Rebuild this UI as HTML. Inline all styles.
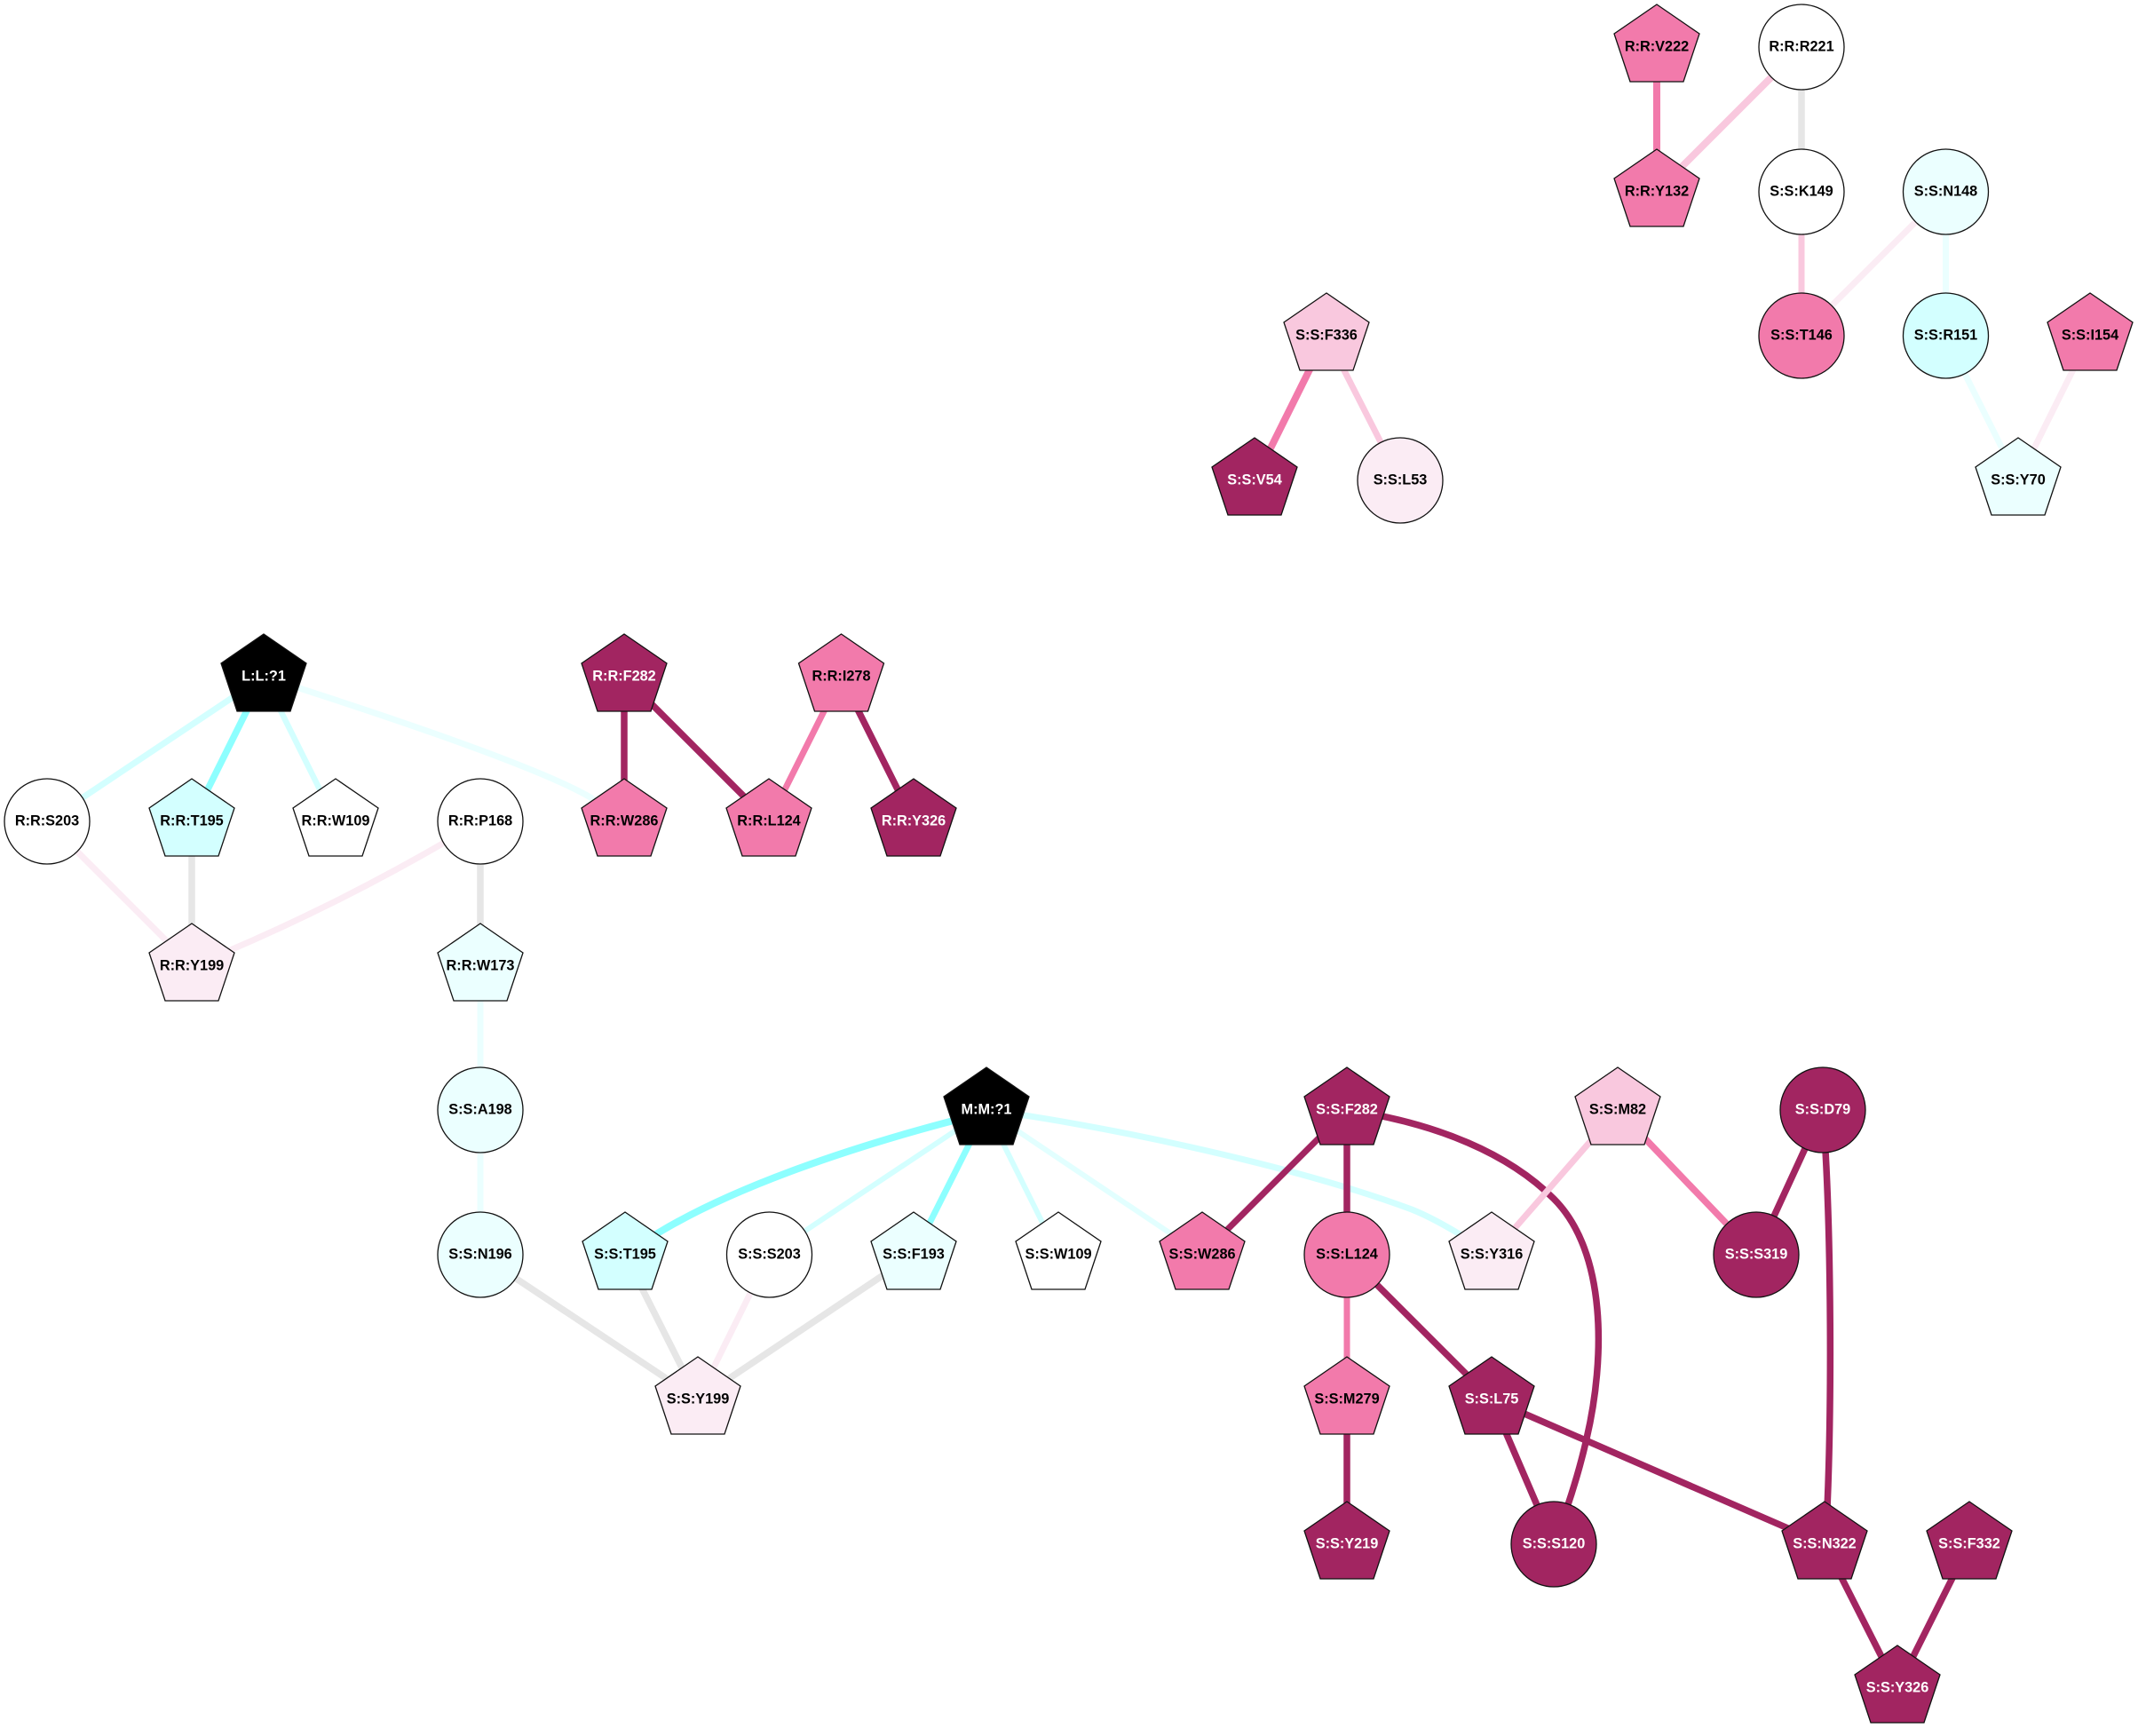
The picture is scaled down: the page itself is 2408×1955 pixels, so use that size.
<!DOCTYPE html>
<html><head><meta charset="utf-8"><style>
html,body{margin:0;padding:0;background:#fff}
svg{display:block}
text{font-family:"Liberation Sans",Arial,sans-serif;font-weight:bold;font-size:16.3px;text-anchor:middle;fill:#000}
text.w{fill:#fff}
.e{fill:none}
polygon,ellipse{stroke:#111;stroke-width:1.3}
</style></head><body>
<svg width="2408" height="1955" viewBox="0 0 2408 1955" xmlns="http://www.w3.org/2000/svg">
<rect width="2408" height="1955" fill="#fff"/>
<g class="e" fill="none">
<path d="M1866,53V216" stroke="#f27aab" stroke-width="8"/>
<path d="M2029,53L1866,216" stroke="#f9c8de" stroke-width="8"/>
<path d="M2029,53V216" stroke="#e6e6e6" stroke-width="7.5"/>
<path d="M2029,216V378" stroke="#f9c8de" stroke-width="7"/>
<path d="M2191.500,216L2029,378" stroke="#fbecf4" stroke-width="7"/>
<path d="M2191.500,216V378" stroke="#ebffff" stroke-width="7"/>
<path d="M2191.500,378L2273,541" stroke="#ebffff" stroke-width="7"/>
<path d="M2354,378L2273,541" stroke="#fbecf4" stroke-width="7"/>
<path d="M1494,378L1413,541" stroke="#f27aab" stroke-width="8"/>
<path d="M1494,378L1577,541" stroke="#f9c8de" stroke-width="7"/>
<path d="M297,762L53,925" stroke="#d3ffff" stroke-width="7"/>
<path d="M297,762L216,925" stroke="#8dffff" stroke-width="7.500"/>
<path d="M297,762L378,925" stroke="#d3ffff" stroke-width="6.500"/>
<path d="M297,762C400,795 600,860 665,898L703,925" stroke="#ebffff" stroke-width="7"/>
<path d="M703,762V925" stroke="#a22561" stroke-width="7.500"/>
<path d="M703,762L866,925" stroke="#a22561" stroke-width="7.500"/>
<path d="M947.500,762L866,925" stroke="#f27aab" stroke-width="7"/>
<path d="M947.500,762L1029,925" stroke="#a22561" stroke-width="7.500"/>
<path d="M53,925L216,1088" stroke="#fbecf4" stroke-width="7"/>
<path d="M216,925V1088" stroke="#e6e6e6" stroke-width="7.500"/>
<path d="M541,925Q380,1022 216,1088" stroke="#fbecf4" stroke-width="7"/>
<path d="M541,925V1088" stroke="#e6e6e6" stroke-width="7.500"/>
<path d="M541,1088V1250" stroke="#ebffff" stroke-width="7"/>
<path d="M541,1250V1413" stroke="#ebffff" stroke-width="7"/>
<path d="M541,1413L786,1576" stroke="#e6e6e6" stroke-width="7.500"/>
<path d="M704,1413L786,1576" stroke="#e6e6e6" stroke-width="7.500"/>
<path d="M866.500,1413L786,1576" stroke="#fbecf4" stroke-width="7"/>
<path d="M1029,1413L786,1576" stroke="#e6e6e6" stroke-width="7.500"/>
<path d="M1111,1252L1070,1263C960,1292 830,1335 742,1388L704,1413" stroke="#8dffff" stroke-width="8"/>
<path d="M1111,1250L866.500,1413" stroke="#d3ffff" stroke-width="6"/>
<path d="M1111,1250L1029,1413" stroke="#8dffff" stroke-width="7"/>
<path d="M1111,1250L1192,1413" stroke="#d3ffff" stroke-width="6"/>
<path d="M1111,1250L1354,1413" stroke="#e2ffff" stroke-width="6"/>
<path d="M1111,1250C1230,1265 1450,1310 1590,1362Q1625,1376 1680,1413" stroke="#d3ffff" stroke-width="7"/>
<path d="M1517,1250L1354,1413" stroke="#a22561" stroke-width="7"/>
<path d="M1517,1250V1413" stroke="#a22561" stroke-width="7.500"/>
<path d="M1517,1250C1620,1265 1700,1300 1750,1350C1810,1410 1808,1530 1787,1620C1778,1660 1765,1700 1750,1739" stroke="#a22561" stroke-width="7.500"/>
<path d="M1822,1250L1680,1413" stroke="#f9c8de" stroke-width="7"/>
<path d="M1822,1250L1978,1413" stroke="#f27aab" stroke-width="7.500"/>
<path d="M2053,1250L1978,1413" stroke="#a22561" stroke-width="7.500"/>
<path d="M2053,1250C2063,1380 2064,1600 2056,1739" stroke="#a22561" stroke-width="7.500"/>
<path d="M1517,1413V1576" stroke="#f27aab" stroke-width="7"/>
<path d="M1517,1413L1680,1576" stroke="#a22561" stroke-width="7.500"/>
<path d="M1517,1576V1739" stroke="#a22561" stroke-width="7.500"/>
<path d="M1680,1576L1750,1739" stroke="#a22561" stroke-width="7.500"/>
<path d="M1680,1576L2055,1739" stroke="#a22561" stroke-width="7.500"/>
<path d="M2055,1739L2137,1901" stroke="#a22561" stroke-width="7.500"/>
<path d="M2218,1739L2137,1901" stroke="#a22561" stroke-width="7.500"/>
</g>

<g transform="translate(1866,53)"><polygon points="0,-48 48,-15 30,39 -30,39 -48,-15" fill="#f27aab"/><text y="4.500">R:R:V222</text></g>
<g transform="translate(2029,53)"><ellipse rx="48" ry="48" fill="#fff"/><text y="4.500">R:R:R221</text></g>
<g transform="translate(1866,216)"><polygon points="0,-48 48,-15 30,39 -30,39 -48,-15" fill="#f27aab"/><text y="4.500">R:R:Y132</text></g>
<g transform="translate(2029,216)"><ellipse rx="48" ry="48" fill="#fff"/><text y="4.500">S:S:K149</text></g>
<g transform="translate(2191.500,216)"><ellipse rx="48" ry="48" fill="#ebffff"/><text y="4.500">S:S:N148</text></g>
<g transform="translate(2029,378)"><ellipse rx="48" ry="48" fill="#f27aab"/><text y="4.500">S:S:T146</text></g>
<g transform="translate(2191.500,378)"><ellipse rx="48" ry="48" fill="#d3ffff"/><text y="4.500">S:S:R151</text></g>
<g transform="translate(2354,378)"><polygon points="0,-48 48,-15 30,39 -30,39 -48,-15" fill="#f27aab"/><text y="4.500">S:S:I154</text></g>
<g transform="translate(2273,541)"><polygon points="0,-48 48,-15 30,39 -30,39 -48,-15" fill="#ebffff"/><text y="4.500">S:S:Y70</text></g>
<g transform="translate(1494,378)"><polygon points="0,-48 48,-15 30,39 -30,39 -48,-15" fill="#f9c8de"/><text y="4.500">S:S:F336</text></g>
<g transform="translate(1413,541)"><polygon points="0,-48 48,-15 30,39 -30,39 -48,-15" fill="#a22561"/><text class="w" y="4.500">S:S:V54</text></g>
<g transform="translate(1577,541)"><ellipse rx="48" ry="48" fill="#fbecf4"/><text y="4.500">S:S:L53</text></g>

<g transform="translate(297,762)"><polygon points="0,-48 48,-15 30,39 -30,39 -48,-15" fill="#000"/><text class="w" y="4.500">L:L:?1</text></g>
<g transform="translate(703,762)"><polygon points="0,-48 48,-15 30,39 -30,39 -48,-15" fill="#a22561"/><text class="w" y="4.500">R:R:F282</text></g>
<g transform="translate(947.500,762)"><polygon points="0,-48 48,-15 30,39 -30,39 -48,-15" fill="#f27aab"/><text y="4.500">R:R:I278</text></g>
<g transform="translate(53,925)"><ellipse rx="48" ry="48" fill="#fff"/><text y="4.500">R:R:S203</text></g>
<g transform="translate(216,925)"><polygon points="0,-48 48,-15 30,39 -30,39 -48,-15" fill="#d3ffff"/><text y="4.500">R:R:T195</text></g>
<g transform="translate(378,925)"><polygon points="0,-48 48,-15 30,39 -30,39 -48,-15" fill="#fff"/><text y="4.500">R:R:W109</text></g>
<g transform="translate(541,925)"><ellipse rx="48" ry="48" fill="#fff"/><text y="4.500">R:R:P168</text></g>
<g transform="translate(703,925)"><polygon points="0,-48 48,-15 30,39 -30,39 -48,-15" fill="#f27aab"/><text y="4.500">R:R:W286</text></g>
<g transform="translate(866,925)"><polygon points="0,-48 48,-15 30,39 -30,39 -48,-15" fill="#f27aab"/><text y="4.500">R:R:L124</text></g>
<g transform="translate(1029,925)"><polygon points="0,-48 48,-15 30,39 -30,39 -48,-15" fill="#a22561"/><text class="w" y="4.500">R:R:Y326</text></g>
<g transform="translate(216,1088)"><polygon points="0,-48 48,-15 30,39 -30,39 -48,-15" fill="#fbecf4"/><text y="4.500">R:R:Y199</text></g>
<g transform="translate(541,1088)"><polygon points="0,-48 48,-15 30,39 -30,39 -48,-15" fill="#ebffff"/><text y="4.500">R:R:W173</text></g>

<g transform="translate(541,1250)"><ellipse rx="48" ry="48" fill="#ebffff"/><text y="4.500">S:S:A198</text></g>
<g transform="translate(1111,1250)"><polygon points="0,-48 48,-15 30,39 -30,39 -48,-15" fill="#000"/><text class="w" y="4.500">M:M:?1</text></g>
<g transform="translate(1517,1250)"><polygon points="0,-48 48,-15 30,39 -30,39 -48,-15" fill="#a22561"/><text class="w" y="4.500">S:S:F282</text></g>
<g transform="translate(1822,1250)"><polygon points="0,-48 48,-15 30,39 -30,39 -48,-15" fill="#f9c8de"/><text y="4.500">S:S:M82</text></g>
<g transform="translate(2053,1250)"><ellipse rx="48" ry="48" fill="#a22561"/><text class="w" y="4.500">S:S:D79</text></g>
<g transform="translate(541,1413)"><ellipse rx="48" ry="48" fill="#ebffff"/><text y="4.500">S:S:N196</text></g>
<g transform="translate(704,1413)"><polygon points="0,-48 48,-15 30,39 -30,39 -48,-15" fill="#d3ffff"/><text y="4.500">S:S:T195</text></g>
<g transform="translate(866.500,1413)"><ellipse rx="48" ry="48" fill="#fff"/><text y="4.500">S:S:S203</text></g>
<g transform="translate(1029,1413)"><polygon points="0,-48 48,-15 30,39 -30,39 -48,-15" fill="#ebffff"/><text y="4.500">S:S:F193</text></g>
<g transform="translate(1192,1413)"><polygon points="0,-48 48,-15 30,39 -30,39 -48,-15" fill="#fff"/><text y="4.500">S:S:W109</text></g>
<g transform="translate(1354,1413)"><polygon points="0,-48 48,-15 30,39 -30,39 -48,-15" fill="#f27aab"/><text y="4.500">S:S:W286</text></g>
<g transform="translate(1517,1413)"><ellipse rx="48" ry="48" fill="#f27aab"/><text y="4.500">S:S:L124</text></g>
<g transform="translate(1680,1413)"><polygon points="0,-48 48,-15 30,39 -30,39 -48,-15" fill="#fbecf4"/><text y="4.500">S:S:Y316</text></g>
<g transform="translate(1978,1413)"><ellipse rx="48" ry="48" fill="#a22561"/><text class="w" y="4.500">S:S:S319</text></g>
<g transform="translate(786,1576)"><polygon points="0,-48 48,-15 30,39 -30,39 -48,-15" fill="#fbecf4"/><text y="4.500">S:S:Y199</text></g>
<g transform="translate(1517,1576)"><polygon points="0,-48 48,-15 30,39 -30,39 -48,-15" fill="#f27aab"/><text y="4.500">S:S:M279</text></g>
<g transform="translate(1680,1576)"><polygon points="0,-48 48,-15 30,39 -30,39 -48,-15" fill="#a22561"/><text class="w" y="4.500">S:S:L75</text></g>
<g transform="translate(1517,1739)"><polygon points="0,-48 48,-15 30,39 -30,39 -48,-15" fill="#a22561"/><text class="w" y="4.500">S:S:Y219</text></g>
<g transform="translate(1750,1739)"><ellipse rx="48" ry="48" fill="#a22561"/><text class="w" y="4.500">S:S:S120</text></g>
<g transform="translate(2055,1739)"><polygon points="0,-48 48,-15 30,39 -30,39 -48,-15" fill="#a22561"/><text class="w" y="4.500">S:S:N322</text></g>
<g transform="translate(2218,1739)"><polygon points="0,-48 48,-15 30,39 -30,39 -48,-15" fill="#a22561"/><text class="w" y="4.500">S:S:F332</text></g>
<g transform="translate(2137,1901)"><polygon points="0,-48 48,-15 30,39 -30,39 -48,-15" fill="#a22561"/><text class="w" y="4.500">S:S:Y326</text></g>
</svg>
</body></html>
